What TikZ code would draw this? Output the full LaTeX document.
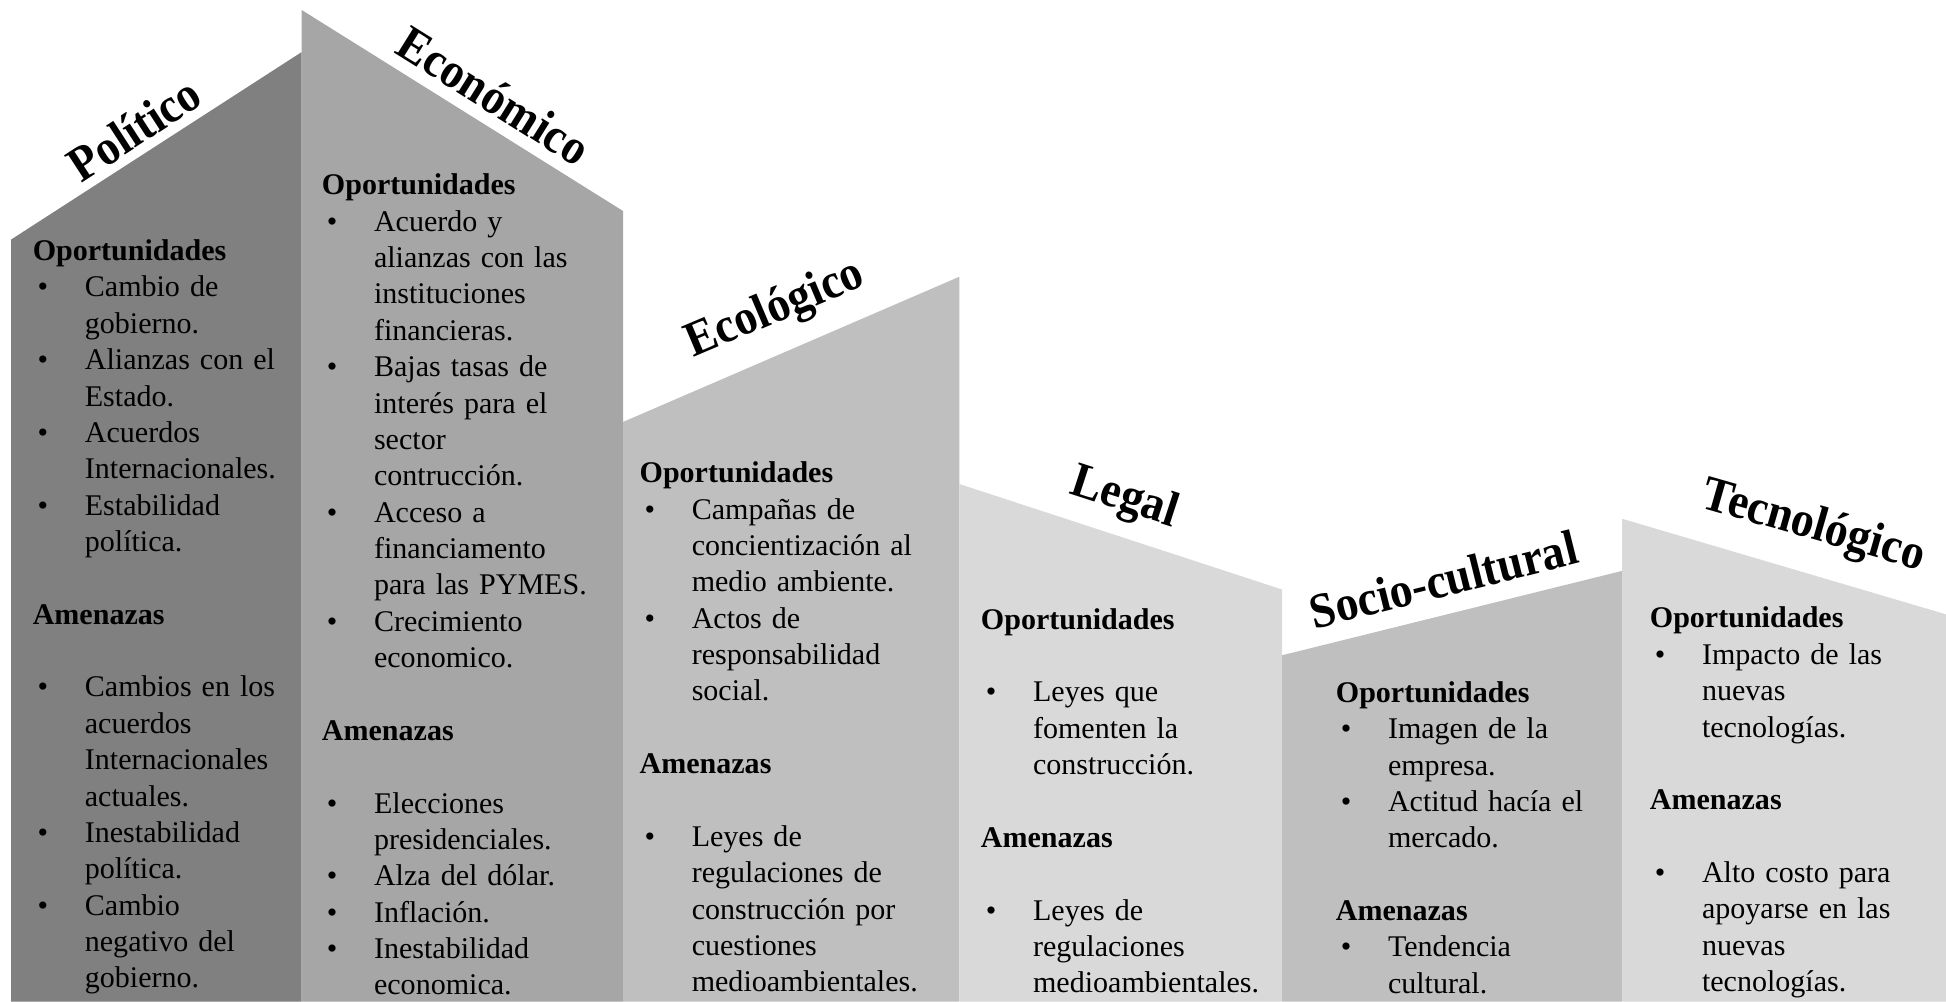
\documentclass[tikz,border=0pt]{standalone}
\usepackage{fontspec}
\setmainfont{Liberation Serif}
\newfontfamily\titlefont[FakeStretch=0.92]{Liberation Serif}
\definecolor{gpol}{HTML}{808080}
\definecolor{geco}{HTML}{A6A6A6}
\definecolor{gmid}{HTML}{BFBFBF}
\definecolor{glig}{HTML}{D9D9D9}
\newcommand{\bitem}{\hspace*{2pt}\makebox[19pt][l]{\textbullet}}
\newcommand{\bcont}{\hspace*{21pt}}
\begin{document}
\begin{tikzpicture}[x=0.5pt,y=-0.5pt,
  title/.style={font=\titlefont\fontsize{20}{22}\selectfont\bfseries, inner sep=0pt},
  body/.style={font=\fontsize{12.1}{14.65}\selectfont, anchor=base west, inner sep=0pt, text width=125pt, align=left}]
		\useasboundingbox (0,0) rectangle (1568,807);
		\fill[gpol] (9,193) -- (243,42) -- (243,807) -- (9,807) -- cycle;
		\fill[geco] (243,8) -- (502,170) -- (502,807) -- (243,807) -- cycle;
		\fill[gmid] (502,340) -- (773,223) -- (773,807) -- (502,807) -- cycle;
		\fill[glig] (773,390) -- (1033,475) -- (1033,807) -- (773,807) -- cycle;
		\fill[gmid] (1033,528) -- (1307,460) -- (1307,807) -- (1033,807) -- cycle;
		\fill[glig] (1307,418) -- (1568,495) -- (1568,807) -- (1307,807) -- cycle;
		\node (t1) [title, rotate=33] at (108,104) {Político};
		\node (t2) [title, rotate=-32] at (398,77) {Económico};
		\node (t3) [title, rotate=23] at (625,250) {Ecológico};
		\node (t4) [title, rotate=-18] at (906,402) {Legal};
		\node (t5) [title, rotate=14] at (1163,467) {Socio-cultural};
		\node (t6) [title, rotate=-16] at (1461,425) {Tecnológico};
		\node (c1) [body] at (26,210) {\textbf{Oportunidades}\\
			\bitem Cambio de\\
			\bcont gobierno.\\
			\bitem Alianzas con el\\
			\bcont Estado.\\
			\bitem Acuerdos\\
			\bcont Internacionales.\\
			\bitem Estabilidad\\
			\bcont política.\\[\baselineskip]
			\textbf{Amenazas}\\[\baselineskip]
			\bitem Cambios en los\\
			\bcont acuerdos\\
			\bcont Internacionales\\
			\bcont actuales.\\
			\bitem Inestabilidad\\
			\bcont política.\\
			\bitem Cambio\\
			\bcont negativo del\\
			\bcont gobierno.};
		\node (c2) [body] at (259,157) {\textbf{Oportunidades}\\
			\bitem Acuerdo y\\
			\bcont alianzas con las\\
			\bcont instituciones\\
			\bcont financieras.\\
			\bitem Bajas tasas de\\
			\bcont interés para el\\
			\bcont sector\\
			\bcont contrucción.\\
			\bitem Acceso a\\
			\bcont financiamento\\
			\bcont para las PYMES.\\
			\bitem Crecimiento\\
			\bcont economico.\\[\baselineskip]
			\textbf{Amenazas}\\[\baselineskip]
			\bitem Elecciones\\
			\bcont presidenciales.\\
			\bitem Alza del dólar.\\
			\bitem Inflación.\\
			\bitem Inestabilidad\\
			\bcont economica.};
		\node (c3) [body] at (515,389) {\textbf{Oportunidades}\\
			\bitem Campañas de\\
			\bcont concientización al\\
			\bcont medio ambiente.\\
			\bitem Actos de\\
			\bcont responsabilidad\\
			\bcont social.\\[\baselineskip]
			\textbf{Amenazas}\\[\baselineskip]
			\bitem Leyes de\\
			\bcont regulaciones de\\
			\bcont construcción por\\
			\bcont cuestiones\\
			\bcont medioambientales.};
		\node (c4) [body] at (790,507) {\textbf{Oportunidades}\\[\baselineskip]
			\bitem Leyes que\\
			\bcont fomenten la\\
			\bcont construcción.\\[\baselineskip]
			\textbf{Amenazas}\\[\baselineskip]
			\bitem Leyes de\\
			\bcont regulaciones\\
			\bcont medioambientales.};
		\node (c5) [body] at (1076,566) {\textbf{Oportunidades}\\
			\bitem Imagen de la\\
			\bcont empresa.\\
			\bitem Actitud hacía el\\
			\bcont mercado.\\[\baselineskip]
			\textbf{Amenazas}\\
			\bitem Tendencia\\
			\bcont cultural.};
		\node (c6) [body] at (1329,506) {\textbf{Oportunidades}\\
			\bitem Impacto de las\\
			\bcont nuevas\\
			\bcont tecnologías.\\[\baselineskip]
			\textbf{Amenazas}\\[\baselineskip]
			\bitem Alto costo para\\
			\bcont apoyarse en las\\
			\bcont nuevas\\
			\bcont tecnologías.};
\end{tikzpicture}
\end{document}
